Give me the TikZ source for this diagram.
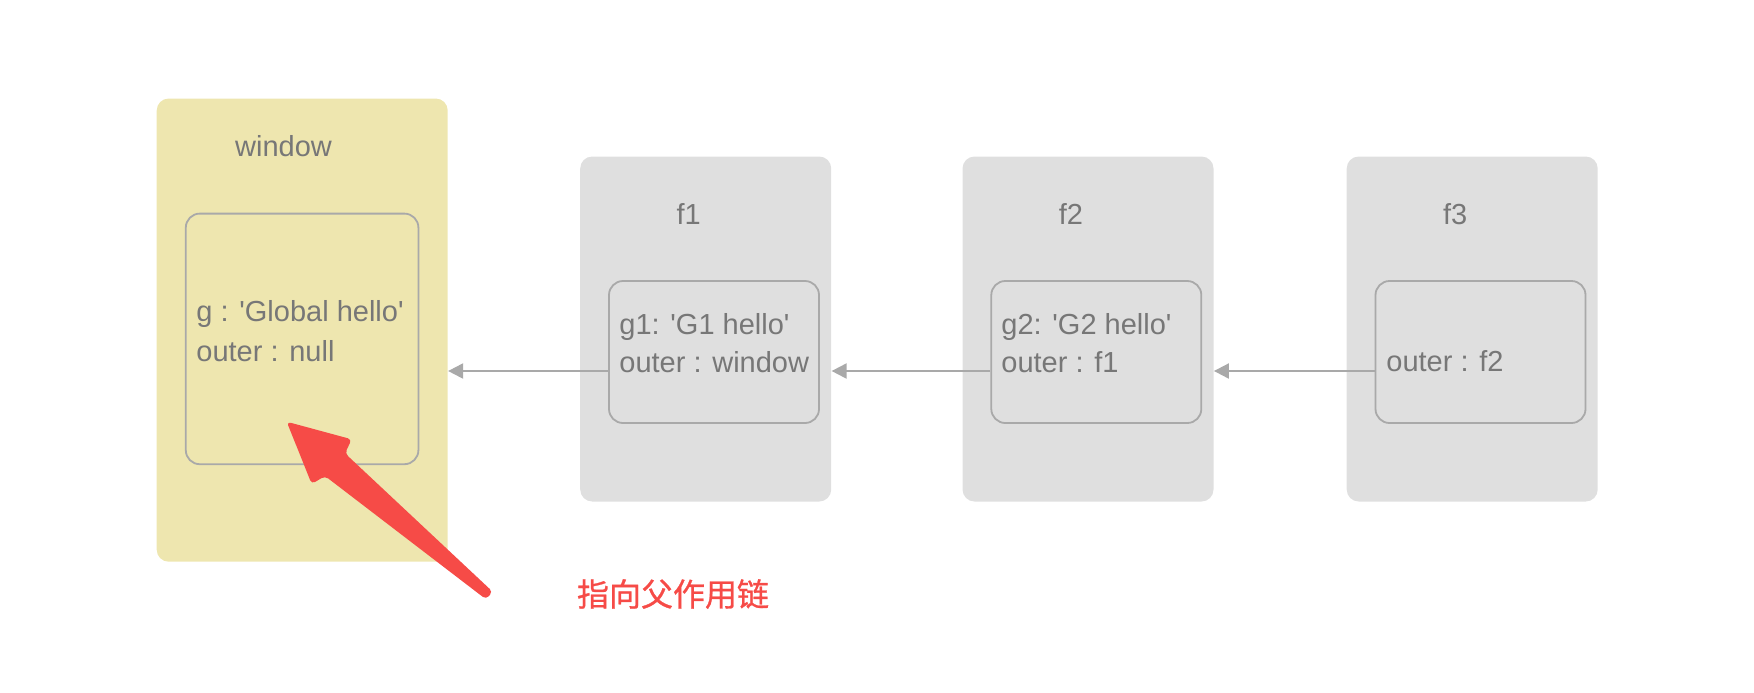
\documentclass[tikz,border=0pt]{standalone}
\usepackage{fontspec}
\setmainfont{Liberation Sans}
\newfontfamily\cjk{Noto Sans CJK SC}[FakeBold=0.8]
\usetikzlibrary{arrows.meta}
\definecolor{winfill}{HTML}{EEE6AF}
\definecolor{boxfill}{HTML}{DFDFDF}
\definecolor{boxline}{HTML}{A9A9A9}
\definecolor{txtgray}{HTML}{777777}
\definecolor{hintred}{HTML}{F64B47}
\newcommand{\q}{\textquotesingle}
\tikzset{
  scopeframe/.style={rounded corners=6pt, minimum width=125.5pt, minimum height=172.5pt, inner sep=0pt},
  scopebox/.style={draw=boxline, line width=0.9pt, rounded corners=7pt, minimum width=105pt, minimum height=71pt, inner sep=0pt},
  lbl/.style={text=txtgray, font=\fontsize{14.5}{17}\selectfont, inner sep=0pt, anchor=base},
  txt/.style={lbl, anchor=base west},
  link/.style={draw=boxline, line width=1pt, -{Triangle[length=7.5pt,width=7.5pt]}}
}
\begin{document}
\begin{tikzpicture}[x=0.5pt,y=-0.5pt]
\useasboundingbox (0,0) rectangle (1754,692);
% global scope
\node[scopeframe, fill=winfill, minimum width=145.5pt, minimum height=231.6pt] (win) at (302.2,330.1) {};
\node[scopebox, minimum width=116.3pt, minimum height=125.3pt] (win-in) at (302.1,338.9) {};
\node[lbl] (win-name) at (283.5,156) {window};
\node[txt] (win-g) at (196,321.7) {g : \q Global hello\q};
\node[txt] (win-o) at (196,361.7) {outer : null};
% function scopes
\foreach \n/\x in {f1/705.7, f2/1088, f3/1472.2}{
  \node[scopeframe, fill=boxfill] (\n) at (\x,329) {};
  \node[scopebox] (\n-in) at (\x+8.3,352) {};
  \node[lbl] (\n-name) at (\x-17,224) {\n};
}
\node[txt] (f1-g) at (619,334) {g1: \q G1 hello\q};
\node[txt] (f1-o) at (619,372.7) {outer : window};
\node[txt] (f2-g) at (1001,334) {g2: \q G2 hello\q};
\node[txt] (f2-o) at (1001,372.7) {outer : f1};
\node[txt] (f3-o) at (1386,371) {outer : f2};
% outer links
\foreach \a/\b in {f1/win, f2/f1, f3/f2}{
  \coordinate (\a-out) at ([yshift=-9.5pt]\a-in.west);
  \draw[link] (\a-out) -- (\a-out -| \b.east);
}
% red pointer
\fill[hintred, rounded corners=2pt] (286.7,421.7) -- (351.7,439.3) -- (345,453.3) -- (492.7,591.7)
  -- (486,599.3) -- (325,476) -- (311.7,484) -- cycle;
\node[text=hintred, font=\cjk\fontsize{16}{18}\selectfont, inner sep=0pt] (hint) at (673,594) {指向父作用链};
\end{tikzpicture}
\end{document}
